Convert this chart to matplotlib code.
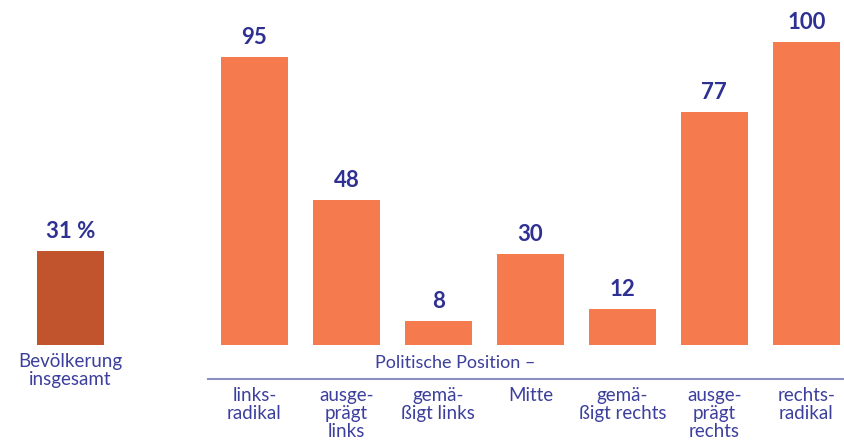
import matplotlib
matplotlib.use("Agg")
import matplotlib.pyplot as plt

total_label = "Bevölkerung\ninsgesamt"
total_value = 31
categories = ["links-\nradikal", "ausge-\nprägt\nlinks", "gemä-\nßigt links", "Mitte",
              "gemä-\nßigt rechts", "ausge-\nprägt\nrechts", "rechts-\nradikal"]
values = [95, 48, 8, 30, 12, 77, 100]
group_title = "Politische Position –"

light = "#F57A4E"
dark = "#C1532D"
blue = "#2E3192"
lblue = "#3C3F9C"

plt.rcParams['font.family'] = ['Lato', 'DejaVu Sans']

fig = plt.figure(figsize=(8.44, 4.41), dpi=100)
ax = fig.add_axes([0, 0, 1, 1])
ax.set_xlim(-0.766, 8.41)
ax.set_ylim(-31.7, 113.9)
ax.axis('off')

w = 0.73
ax.bar([0], [total_value], width=w, color=dark)
ax.text(0, total_value + 3, f"{total_value} %", ha='center', va='bottom',
        fontsize=16, fontweight='bold', color=blue)
ax.text(0, -2.6, total_label, ha='center', va='top', fontsize=13.5,
        color=lblue, linespacing=1.05)

xs = list(range(2, 2 + len(values)))
ax.bar(xs, values, width=w, color=light)
for x, v in zip(xs, values):
    ax.text(x, v + 3, str(v), ha='center', va='bottom', fontsize=16,
            fontweight='bold', color=blue)
for x, c in zip(xs, categories):
    ax.text(x, -14.0, c, ha='center', va='top', fontsize=13.5,
            color=lblue, linespacing=1.05)

ax.text(4.18, -6, group_title, ha='center', va='center', fontsize=13, color=lblue)
ax.plot([1.5, 8.41], [-11.2, -11.2], color="#8C8FC0", lw=1.5, clip_on=False)

fig.savefig("out.png", dpi=100)
